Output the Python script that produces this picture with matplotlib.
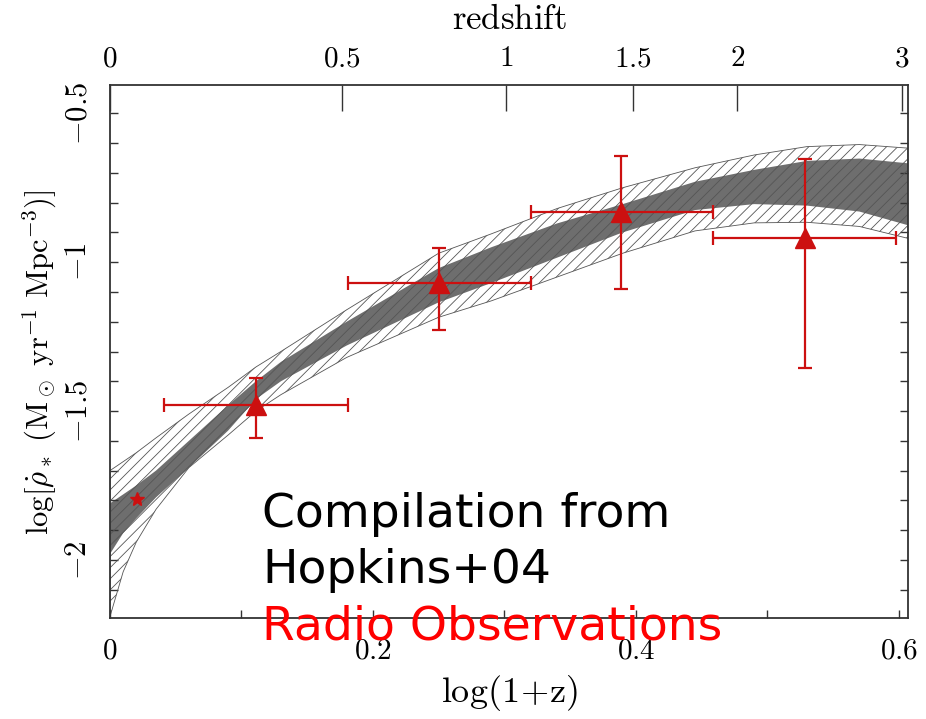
import numpy as np
import matplotlib
matplotlib.use("Agg")
import matplotlib.pyplot as plt
from matplotlib.ticker import FixedLocator, MultipleLocator, FixedFormatter

plt.rcParams['mathtext.fontset'] = 'cm'
plt.rcParams['font.family'] = ['DejaVu Serif']
plt.rcParams['hatch.linewidth'] = 0.6

# ---- Hopkins+04 compilation bands (log(1+z), log SFRD) ----
band_x   = [0.0, 0.01, 0.02, 0.035, 0.06, 0.09, 0.111, 0.13, 0.18, 0.25, 0.29, 0.34, 0.39, 0.445, 0.49, 0.53, 0.57, 0.607]
outer_hi = [-1.70, -1.67, -1.64, -1.59, -1.51, -1.42, -1.352, -1.30, -1.16, -0.97, -0.905, -0.82, -0.75, -0.683, -0.64, -0.612, -0.605, -0.617]
outer_lo = [-2.19, -2.04, -1.94, -1.83, -1.69, -1.58, -1.50, -1.445, -1.32, -1.185, -1.13, -1.05, -0.97, -0.895, -0.868, -0.866, -0.88, -0.92]
inner_hi = [-1.81, -1.78, -1.75, -1.70, -1.60, -1.48, -1.40, -1.335, -1.20, -1.02, -0.95, -0.87, -0.805, -0.73, -0.69, -0.66, -0.652, -0.668]
inner_lo = [-1.98, -1.91, -1.86, -1.79, -1.69, -1.565, -1.46, -1.40, -1.28, -1.135, -1.07, -0.985, -0.90, -0.825, -0.805, -0.81, -0.83, -0.876]

# ---- Radio observations ----
radio_x    = [0.111, 0.250, 0.389, 0.529]
radio_xlo  = [0.041, 0.181, 0.320, 0.459]
radio_xhi  = [0.181, 0.320, 0.459, 0.598]
radio_y    = [-1.48, -1.07, -0.832, -0.919]
radio_ylo  = [-1.591, -1.228, -1.091, -1.356]
radio_yhi  = [-1.389, -0.953, -0.644, -0.654]

star_x = [0.0205]
star_y = [-1.795]

# ---- ticks ----
x_major = [0.0, 0.2, 0.4, 0.6]
x_major_labels = [r'$0$', r'$0.2$', r'$0.4$', r'$0.6$']
y_major = [-2.0, -1.5, -1.0, -0.5]
y_major_labels = [r'$-2$', r'$-1.5$', r'$-1$', r'$-0.5$']
z_ticks = [0, 0.5, 1, 1.5, 2, 3]
z_labels = [r'$0$', r'$0.5$', r'$1$', r'$1.5$', r'$2$', r'$3$']

W, H = 926, 719
fig = plt.figure(figsize=(W / 100, H / 100), dpi=100)
ax = fig.add_axes([110 / W, 1 - 618 / H, (908 - 110) / W, (618 - 85) / H])

ax.fill_between(band_x, inner_lo, inner_hi, facecolor='#6e6e6e', edgecolor='none', zorder=1)
ax.fill_between(band_x, outer_lo, outer_hi, facecolor='none', edgecolor='#555555',
                hatch='///', linewidth=0.6, zorder=2)

xerr = [np.array(radio_x) - np.array(radio_xlo), np.array(radio_xhi) - np.array(radio_x)]
yerr = [np.array(radio_y) - np.array(radio_ylo), np.array(radio_yhi) - np.array(radio_y)]
ax.errorbar(radio_x, radio_y, xerr=xerr, yerr=yerr, fmt='^', color='#cc1010',
            ms=15, elinewidth=1.6, capsize=5, capthick=1.6, zorder=5)
ax.plot(star_x, star_y, '*', color='#cc1010', ms=10, zorder=5)

ax.set_xlim(0, 0.607)
ax.set_ylim(-2.195, -0.405)

ax.xaxis.set_major_locator(FixedLocator(x_major))
ax.xaxis.set_major_formatter(FixedFormatter(x_major_labels))
ax.xaxis.set_minor_locator(MultipleLocator(0.1))
ax.yaxis.set_major_locator(FixedLocator(y_major))
ax.yaxis.set_major_formatter(FixedFormatter(y_major_labels))
ax.yaxis.set_minor_locator(MultipleLocator(0.1))

ax.tick_params(axis='both', which='both', direction='in', length=6, width=1.0, color='#333333')
ax.tick_params(axis='x', which='both', top=True, labeltop=False)
ax.tick_params(axis='y', which='both', right=True)
ax.tick_params(axis='x', labelsize=21, pad=13)
ax.tick_params(axis='y', labelsize=22, pad=12, labelrotation=90)
for lab in ax.get_yticklabels():
    lab.set_va('center')
for s in ax.spines.values():
    s.set_linewidth(1.3)
    s.set_color('#333333')
# mirrored log(1+z) ticks along the top are faint in the original
for t in ax.xaxis.get_major_ticks() + ax.xaxis.get_minor_ticks():
    t.tick2line.set_color('#bbbbbb')

ax2 = ax.twiny()
ax2.set_xlim(ax.get_xlim())
ax2.xaxis.set_major_locator(FixedLocator(np.log10(1 + np.array(z_ticks))))
ax2.xaxis.set_major_formatter(FixedFormatter(z_labels))
ax2.xaxis.set_minor_locator(FixedLocator([]))
ax2.tick_params(axis='x', which='major', direction='in', length=19, width=1.0,
                color='#333333', labelsize=21, pad=9)
for s in ax2.spines.values():
    s.set_visible(False)

fig.text(0.5497, 1 - 693 / H, r'$\mathrm{log(1\!+\!z)}$', ha='center', va='center', fontsize=26)
fig.text(0.5497, 1 - 19 / H, r'$\mathrm{redshift}$', ha='center', va='center', fontsize=25)
fig.text(40 / W, 1 - 362 / H,
         r'$\log[\dot{\rho}_*\ (\mathrm{M}_\odot\ \mathrm{yr}^{-1}\ \mathrm{Mpc}^{-3})]$',
         rotation=90, ha='center', va='center', fontsize=22)

fig.text(262 / W, 1 - 527 / H, 'Compilation from', family='DejaVu Sans', fontsize=34,
         color='black', ha='left', va='baseline')
fig.text(262 / W, 1 - 583 / H, 'Hopkins+04', family='DejaVu Sans', fontsize=34,
         color='black', ha='left', va='baseline')
fig.text(262 / W, 1 - 640 / H, 'Radio Observations', family='DejaVu Sans', fontsize=34,
         color='#ff0000', ha='left', va='baseline', zorder=10)

fig.savefig('out.png', dpi=100)
